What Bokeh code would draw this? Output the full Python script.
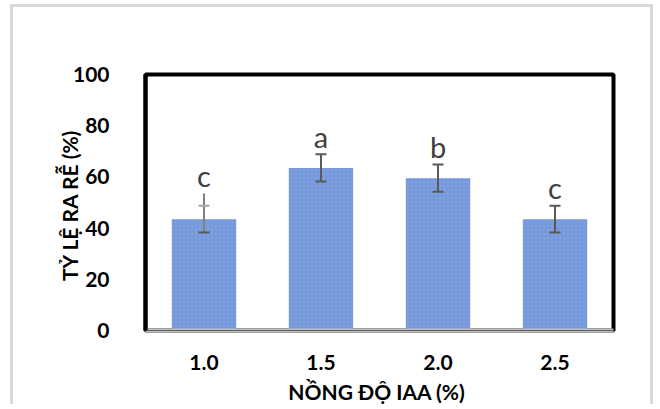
from bokeh.plotting import figure
from bokeh.models import ColumnDataSource, FactorRange, Range1d, FixedTicker, Span
from bokeh.embed import file_html
from bokeh.resources import INLINE
from bokeh.core.properties import value

# ---- data ----
concentrations = ["1.0", "1.5", "2.0", "2.5"]
rooting_rate = [43.5, 63.5, 59.5, 43.5]
std_err = [5.25, 5.3, 5.3, 5.25]
whisker_top = [53.5, 68.8, 64.8, 48.8]
letters = ["c", "a", "b", "c"]
y_ticks = [0, 20, 40, 60, 80, 100]

upper = [m + e for m, e in zip(rooting_rate, std_err)]
lower = [m - e for m, e in zip(rooting_rate, std_err)]
letter_y = [t + 0.3 for t in whisker_top]
stem_color = ["#808080", "#595959", "#595959", "#595959"]
cap_color = ["#a6a6a6", "#595959", "#595959", "#595959"]

src = ColumnDataSource(dict(x=concentrations, top=rooting_rate, upper=upper,
                            lower=lower, wtop=whisker_top, ly=letter_y,
                            letter=letters, sc=stem_color, cc=cap_color))

p = figure(width=643, height=400, output_backend="svg", toolbar_location=None,
           x_range=FactorRange(*concentrations, range_padding=0),
           y_range=Range1d(0, 100),
           min_border_left=132, min_border_right=43, min_border_top=67,
           min_border_bottom=77)
p.styles = {"border-left": "3px solid #d9d9d9", "border-top": "3px solid #d9d9d9",
            "border-right": "3px solid #d9d9d9", "margin-left": "10px",
            "margin-top": "4px"}

p.vbar(x="x", top="top", width=0.55, source=src, fill_color="#7297da",
       line_color=None, hatch_pattern="cross", hatch_color="#9db6e6",
       hatch_alpha=0.5, hatch_scale=4, hatch_weight=0.6)

p.segment(x0="x", y0="lower", x1="x", y1="wtop", source=src, line_color="sc", line_width=2)
p.rect(x="x", y="upper", width=11, height=2, width_units="screen", height_units="screen",
       source=src, fill_color="cc", line_color=None)
p.rect(x="x", y="lower", width=11, height=2, width_units="screen", height_units="screen",
       source=src, fill_color="#595959", line_color=None)

p.text(x="x", y="ly", text="letter", source=src, text_align="center",
       text_baseline="bottom", text_font=value("Lato"),
       text_font_size="29px", text_color="#404040")

p.grid.visible = False
p.outline_line_color = "black"
p.outline_line_width = 4
p.background_fill_color = "white"
p.border_fill_color = "white"

for ax in (p.xaxis[0], p.yaxis[0]):
    ax.major_tick_line_color = None
    ax.minor_tick_line_color = None
    ax.major_label_text_font = "Lato"
    ax.major_label_text_font_style = "bold"
    ax.major_label_text_font_size = "21px"
    ax.major_label_text_color = "black"
    ax.axis_label_text_font = "Lato"
    ax.axis_label_text_font_style = "bold"
    ax.axis_label_text_font_size = "21px"
    ax.axis_label_text_color = "black"

p.yaxis.ticker = FixedTicker(ticks=y_ticks)
p.yaxis.axis_line_color = "black"
p.yaxis.axis_line_width = 4
p.yaxis.major_label_standoff = 30
p.yaxis.axis_label = "TỶ LỆ RA RỄ  (%)"
p.yaxis.axis_label_standoff = -12

p.xaxis.axis_line_color = "#bfbfbf"
p.xaxis.axis_line_width = 4
p.xaxis.major_label_standoff = 18
p.xaxis.axis_label = "NỒNG ĐỘ IAA  (%)"
p.xaxis.axis_label_standoff = 6

p.add_layout(Span(location=0, dimension="width", line_color="black", line_width=1))

open("out.html", "w").write(file_html(p, INLINE))
